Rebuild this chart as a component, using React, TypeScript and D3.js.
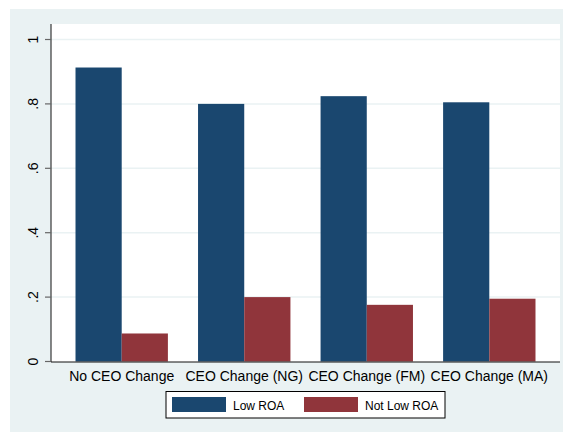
import React from "react";
import * as d3 from "d3";

const W = 563;
const H = 432;

// chart data
const categories = ["No CEO Change", "CEO Change (NG)", "CEO Change (FM)", "CEO Change (MA)"];
const seriesNames = ["Low ROA", "Not Low ROA"];
const lowROA = [0.913, 0.8, 0.824, 0.805];
const notLowROA = [0.087, 0.2, 0.176, 0.195];
const yTicks = [0, 0.2, 0.4, 0.6, 0.8, 1];
const yTickLabels = ["0", ".2", ".4", ".6", ".8", "1"];

const colors = ["#1a476f", "#90353b"];
const BG = "#eaf2f3";
const FONT = "'Liberation Sans', Arial, sans-serif";

const plot = { left: 51, right: 560, top: 24, bottom: 362 };

export default function App() {
  const y = d3.scaleLinear().domain([0, 1]).range([361.5, 39.5]);
  const x = d3
    .scaleBand<string>()
    .domain(categories)
    .range([plot.left, plot.right])
    .paddingInner(0.246)
    .paddingOuter(0.2);
  const xs = d3.scaleBand<string>().domain(seriesNames).range([0, x.bandwidth()]);
  const series = [lowROA, notLowROA];

  return (
    <svg
      width={W}
      height={H}
      style={{ position: "absolute", left: 0, top: 0, display: "block" }}
    >
      <rect x={0} y={0} width={W} height={H} fill="#ffffff" />
      <rect x={10} y={9} width={W - 10} height={H - 9} fill={BG} />
      <rect
        x={plot.left}
        y={plot.top}
        width={plot.right - plot.left}
        height={plot.bottom - plot.top}
        fill="#ffffff"
      />

      {/* grid lines */}
      {yTicks.slice(1).map((t) => (
        <line
          key={"g" + t}
          x1={plot.left}
          x2={plot.right}
          y1={y(t)}
          y2={y(t)}
          stroke={BG}
          strokeWidth={1.5}
        />
      ))}

      {/* bars */}
      {categories.map((c, i) => (
        <g key={c} transform={`translate(${x(c)},0)`}>
          {seriesNames.map((s, j) => (
            <rect
              key={s}
              x={xs(s)}
              y={y(series[j][i])}
              width={xs.bandwidth()}
              height={y(0) - y(series[j][i])}
              fill={colors[j]}
            />
          ))}
        </g>
      ))}

      {/* y axis */}
      <line x1={plot.left} x2={plot.left} y1={plot.top} y2={plot.bottom} stroke="#111" strokeWidth={1} />
      {yTicks.map((t, i) => (
        <g key={"t" + t} transform={`translate(0,${y(t)})`}>
          <line x1={45} x2={plot.left} stroke="#666" strokeWidth={1.2} />
          <text
            transform="translate(38,0) rotate(-90)"
            textAnchor="middle"
            fontFamily={FONT}
            fontSize={14}
            fill="#000"
          >
            {yTickLabels[i]}
          </text>
        </g>
      ))}

      {/* x axis */}
      <line x1={plot.left} x2={plot.right} y1={plot.bottom} y2={plot.bottom} stroke="#111" strokeWidth={1} />
      {categories.map((c) => (
        <text
          key={"l" + c}
          x={(x(c) ?? 0) + x.bandwidth() / 2}
          y={381}
          textAnchor="middle"
          fontFamily={FONT}
          fontSize={14}
          fill="#000"
        >
          {c}
        </text>
      ))}

      {/* legend */}
      <rect x={166} y={391.5} width={279} height={26.5} fill="#ffffff" stroke="#000" strokeWidth={1} />
      {seriesNames.map((s, j) => (
        <g key={"k" + s} transform={`translate(${172 + j * 132},0)`}>
          <rect x={0} y={397} width={54} height={15} fill={colors[j]} />
          <text x={61} y={410} fontFamily={FONT} fontSize={12} fill="#000">
            {s}
          </text>
        </g>
      ))}
    </svg>
  );
}
